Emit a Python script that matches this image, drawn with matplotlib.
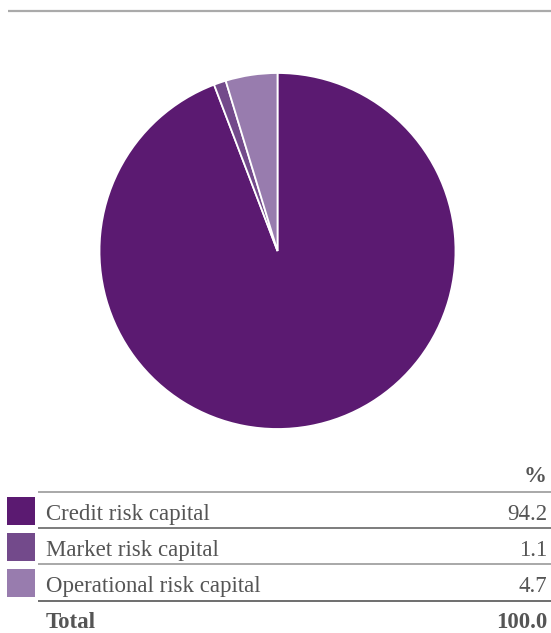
import matplotlib.pyplot as plt
from matplotlib.patches import Rectangle

categories = ["Credit risk capital", "Market risk capital", "Operational risk capital"]
shares = [94.2, 1.1, 4.7]
colors = ["#5b1a71", "#734a8b", "#987cae"]
total_label = "Total"
total_value = 100.0

W, H = 551, 633
fig = plt.figure(figsize=(W / 100, H / 100), dpi=100)

# page layer in pixel coordinates for rules and the table
base = fig.add_axes([0, 0, 1, 1])
base.set_xlim(0, W)
base.set_ylim(H, 0)
base.axis("off")

base.plot([8, W], [10.5, 10.5], color="#aaaaaa", lw=1.6, solid_capstyle="butt")

# pie, clockwise from twelve o'clock
cx, cy, r = 277.5, 251, 178
pie_ax = fig.add_axes([(cx - r) / W, (H - cy - r) / H, 2 * r / W, 2 * r / H])
pie_ax.pie(shares, colors=colors, startangle=90, counterclock=False,
           wedgeprops=dict(edgecolor="white", linewidth=1.3))
pie_ax.set_xlim(-1, 1)
pie_ax.set_ylim(-1, 1)
pie_ax.set_aspect("equal")

font = "Liberation Serif"
txt_color = "#555555"
fs = 16.5

row_base = [520, 556, 592]
rule_y = [491.5, 527.5, 564, 601]
rule_c = ["#9a9a9a", "#666666", "#9a9a9a", "#555555"]
for y, c in zip(rule_y, rule_c):
    base.plot([38, W], [y, y], color=c, lw=1.2, solid_capstyle="butt")

base.text(547, 482, "%", ha="right", va="baseline", fontsize=fs,
          fontweight="bold", family=font, color=txt_color)

for y, name, val, col in zip(row_base, categories, shares, colors):
    base.add_patch(Rectangle((7, y - 23), 28, 27.5, facecolor=col, edgecolor="none"))
    base.text(46, y, name, ha="left", va="baseline", fontsize=fs,
              family=font, color=txt_color)
    base.text(547, y, f"{val:.1f}", ha="right", va="baseline", fontsize=fs,
              family=font, color=txt_color)

base.text(46, 628, total_label, ha="left", va="baseline", fontsize=fs,
          fontweight="bold", family=font, color=txt_color)
base.text(547, 628, f"{total_value:.1f}", ha="right", va="baseline", fontsize=fs,
          fontweight="bold", family=font, color=txt_color)

fig.savefig("out.png", dpi=100)
